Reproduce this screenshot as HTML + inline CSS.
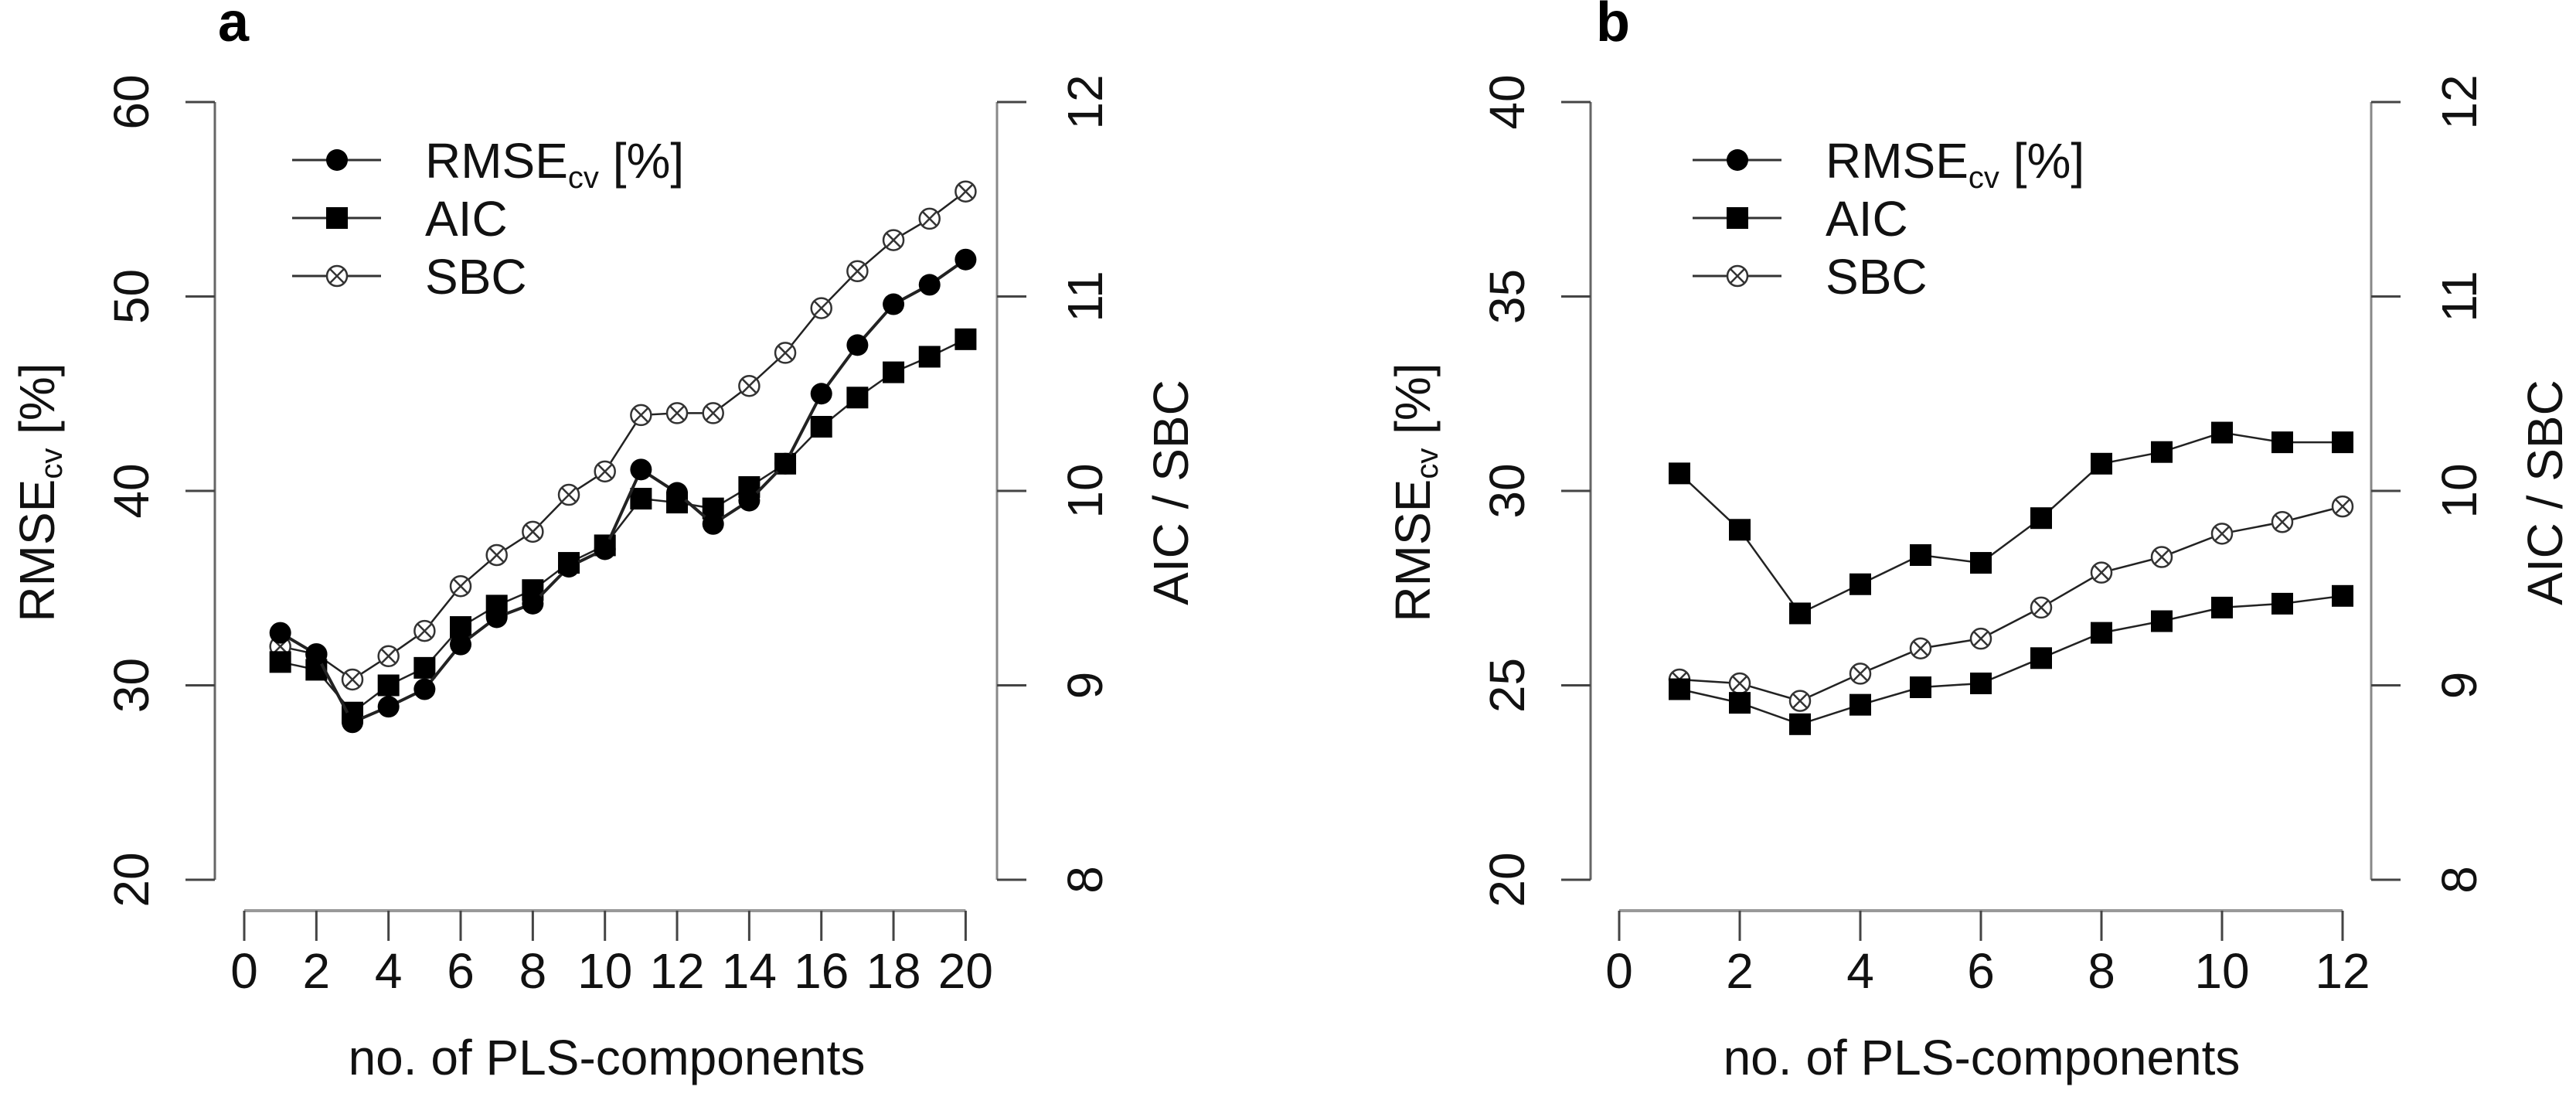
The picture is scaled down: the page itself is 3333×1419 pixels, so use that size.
<!DOCTYPE html>
<html><head><meta charset="utf-8"><style>
html,body{margin:0;padding:0;background:#fff;}
svg{display:block;font-family:"Liberation Sans",sans-serif;}
</style></head><body>
<svg id="chart" width="3333" height="1419" viewBox="0 0 3333 1419" xmlns="http://www.w3.org/2000/svg"></svg>
<script>
// ---- Panel a data ----
const aX = [1,2,3,4,5,6,7,8,9,10,11,12,13,14,15,16,17,18,19,20];
const aRmse = [32.7,31.6,28.1,28.9,29.8,32.1,33.5,34.2,36.1,37.0,41.1,39.9,38.3,39.5,41.4,45.0,47.5,49.6,50.6,51.9];
const aAic = [9.12,9.08,8.86,9.00,9.09,9.30,9.41,9.49,9.63,9.72,9.96,9.94,9.91,10.02,10.14,10.33,10.48,10.61,10.69,10.78];
const aSbc = [9.20,9.16,9.03,9.15,9.28,9.51,9.67,9.79,9.98,10.10,10.39,10.40,10.40,10.54,10.71,10.94,11.13,11.29,11.40,11.54];
const aXTicks = [0,2,4,6,8,10,12,14,16,18,20];
const aLeftTicks = [20,30,40,50,60];
// ---- Panel b data ----
const bX = [1,2,3,4,5,6,7,8,9,10,11,12];
const bRmse = [30.45,29.0,26.85,27.6,28.35,28.15,29.3,30.7,31.0,31.5,31.25,31.25];
const bAic = [8.98,8.91,8.80,8.90,8.99,9.01,9.14,9.27,9.33,9.40,9.42,9.46];
const bSbc = [9.03,9.01,8.92,9.06,9.19,9.24,9.40,9.58,9.66,9.78,9.84,9.92];
const bXTicks = [0,2,4,6,8,10,12];
const bLeftTicks = [20,25,30,35,40];
const rightTicks = [8,9,10,11,12];

const NS = "http://www.w3.org/2000/svg";
const svg = document.getElementById('chart');
function mk(tag, attrs, parent){
  const e = document.createElementNS(NS, tag);
  for (const k in attrs) e.setAttribute(k, attrs[k]);
  (parent||svg).appendChild(e);
  return e;
}
const YT = 132, YB = 1138;

function panel(cfg){
  const g = mk('g', {});
  
  
  const xs = v => cfg.x0 + v*cfg.xu;
  const yl = v => YB - (v-cfg.lmin)/(cfg.lmax-cfg.lmin)*(YB-YT);
  const yr = v => YB - (v-8)/4*(YB-YT);
  // panel letter
  const letter = mk('text', {x:cfg.letterX, y:53, 'font-size':72, 'font-weight':'bold', fill:'#000'}, g);
  letter.textContent = cfg.letter;
  
  
  // left axis
  const la = mk('g', {}, g);
  
  
  mk('line', {x1:cfg.lx, y1:YT, x2:cfg.lx, y2:YB, stroke:'#666', 'stroke-width':3}, la);
  cfg.lticks.forEach(t => {
    const y = yl(t);
    mk('line', {x1:cfg.lx-38, y1:y, x2:cfg.lx, y2:y, stroke:'#444', 'stroke-width':3}, la);
    const tx = mk('text', {x:0, y:0, 'font-size':64, 'text-anchor':'middle', transform:`translate(${cfg.lx-108+22},${y}) rotate(-90)`, fill:'#111'}, la);
    tx.textContent = t;
    
    
  });
  const lt = mk('text', {x:0, y:0, 'font-size':64, 'text-anchor':'middle', transform:`translate(${cfg.lx-230+22},637) rotate(-90)`, fill:'#111'}, la);
  lt.innerHTML = 'RMSE<tspan font-size="40" dy="10">cv</tspan><tspan dy="-10"> [%]</tspan>';
  
  
  // right axis
  const ra = mk('g', {}, g);
  
  
  mk('line', {x1:cfg.rx, y1:YT, x2:cfg.rx, y2:YB, stroke:'#888', 'stroke-width':3}, ra);
  rightTicks.forEach(t => {
    const y = yr(t);
    mk('line', {x1:cfg.rx, y1:y, x2:cfg.rx+38, y2:y, stroke:'#444', 'stroke-width':3}, ra);
    const tx = mk('text', {x:0, y:0, 'font-size':64, 'text-anchor':'middle', transform:`translate(${cfg.rx+114+22},${y}) rotate(-90)`, fill:'#111'}, ra);
    tx.textContent = t;
    
    
  });
  const rt = mk('text', {x:0, y:0, 'font-size':64, 'text-anchor':'middle', transform:`translate(${cfg.rx+225+22},637) rotate(-90)`, fill:'#111'}, ra);
  rt.textContent = 'AIC / SBC';
  
  
  // x axis
  const xa = mk('g', {}, g);
  
  
  const t0 = cfg.xticks[0], t1 = cfg.xticks[cfg.xticks.length-1];
  mk('line', {x1:xs(t0), y1:1178, x2:xs(t1), y2:1178, stroke:'#999', 'stroke-width':4}, xa);
  cfg.xticks.forEach(t => {
    mk('line', {x1:xs(t), y1:1178, x2:xs(t), y2:1217, stroke:'#444', 'stroke-width':3}, xa);
    const tx = mk('text', {x:xs(t), y:1278, 'font-size':64, 'text-anchor':'middle', fill:'#111'}, xa);
    tx.textContent = t;
    
    
  });
  const xt = mk('text', {x:cfg.xtitleX, y:1390, 'font-size':64, 'text-anchor':'middle', fill:'#111'}, xa);
  xt.textContent = 'no. of PLS-components';
  
  
  // series
  function series(name, xsArr, vals, yfn, marker, lw){
    const sg = mk('g', {}, g);
    
    
    const pts = xsArr.map((x,i) => [xs(x), yfn(vals[i])]);
    mk('polyline', {points: pts.map(p=>p.join(',')).join(' '), fill:'none', stroke:'#222', 'stroke-width':lw}, sg);
    pts.forEach(p => drawMarker(sg, marker, p[0], p[1]));
  }
  cfg.series.forEach(s => series(s.name, cfg.xdata, s.vals, s.axis==='l'?yl:yr, s.marker, s.lw));
  // legend
  const lg = mk('g', {}, g);
  
  
  const rows = [['circle','RMSE'],['square','AIC'],['sbc','SBC']];
  const ys = [207, 282, 357];
  rows.forEach((r,i) => {
    const eg = mk('g', {}, lg);
    
    
    mk('line', {x1:cfg.legX, y1:ys[i], x2:cfg.legX+115, y2:ys[i], stroke:'#333', 'stroke-width':3}, eg);
    drawMarker(eg, r[0], cfg.legX+58, ys[i]);
    const t = mk('text', {x:cfg.legX+172, y:ys[i]+23, 'font-size':64, fill:'#111'}, eg);
    if (i===0) t.innerHTML = 'RMSE<tspan font-size="40" dy="13">cv</tspan><tspan dy="-13"> [%]</tspan>';
    else t.textContent = r[1];
  });
}
function drawMarker(parent, type, x, y){
  if (type==='circle'){
    mk('circle', {cx:x, cy:y, r:14, fill:'#000'}, parent);
  } else if (type==='square'){
    mk('rect', {x:x-14, y:y-14, width:28, height:28, fill:'#000'}, parent);
  } else {
    mk('circle', {cx:x, cy:y, r:13, fill:'#fff', stroke:'#333', 'stroke-width':2.5}, parent);
    const d = 9.5;
    mk('line', {x1:x-d, y1:y-d, x2:x+d, y2:y+d, stroke:'#333', 'stroke-width':2.5}, parent);
    mk('line', {x1:x-d, y1:y+d, x2:x+d, y2:y-d, stroke:'#333', 'stroke-width':2.5}, parent);
  }
}
panel({name:'panel-a', letter:'a', letterX:282, lx:278, rx:1290, x0:316, xu:46.67, lmin:20, lmax:60,
  lticks:aLeftTicks, xticks:aXTicks, xdata:aX, xtitleX:785, legX:378,
  series:[
    {name:'series-sbc', vals:aSbc, axis:'r', marker:'sbc', lw:2.5},
    {name:'series-aic', vals:aAic, axis:'r', marker:'square', lw:2.5},
    {name:'series-rmse', vals:aRmse, axis:'l', marker:'circle', lw:4}
  ]});
panel({name:'panel-b', letter:'b', letterX:2065, lx:2058, rx:3068, x0:2095, xu:78, lmin:20, lmax:40,
  lticks:bLeftTicks, xticks:bXTicks, xdata:bX, xtitleX:2564, legX:2190,
  series:[
    {name:'series-rmse', vals:bRmse, axis:'l', marker:'square', lw:2.5},
    {name:'series-sbc', vals:bSbc, axis:'r', marker:'sbc', lw:2.5},
    {name:'series-aic', vals:bAic, axis:'r', marker:'square', lw:2.5}
  ]});
</script>
</body></html>
